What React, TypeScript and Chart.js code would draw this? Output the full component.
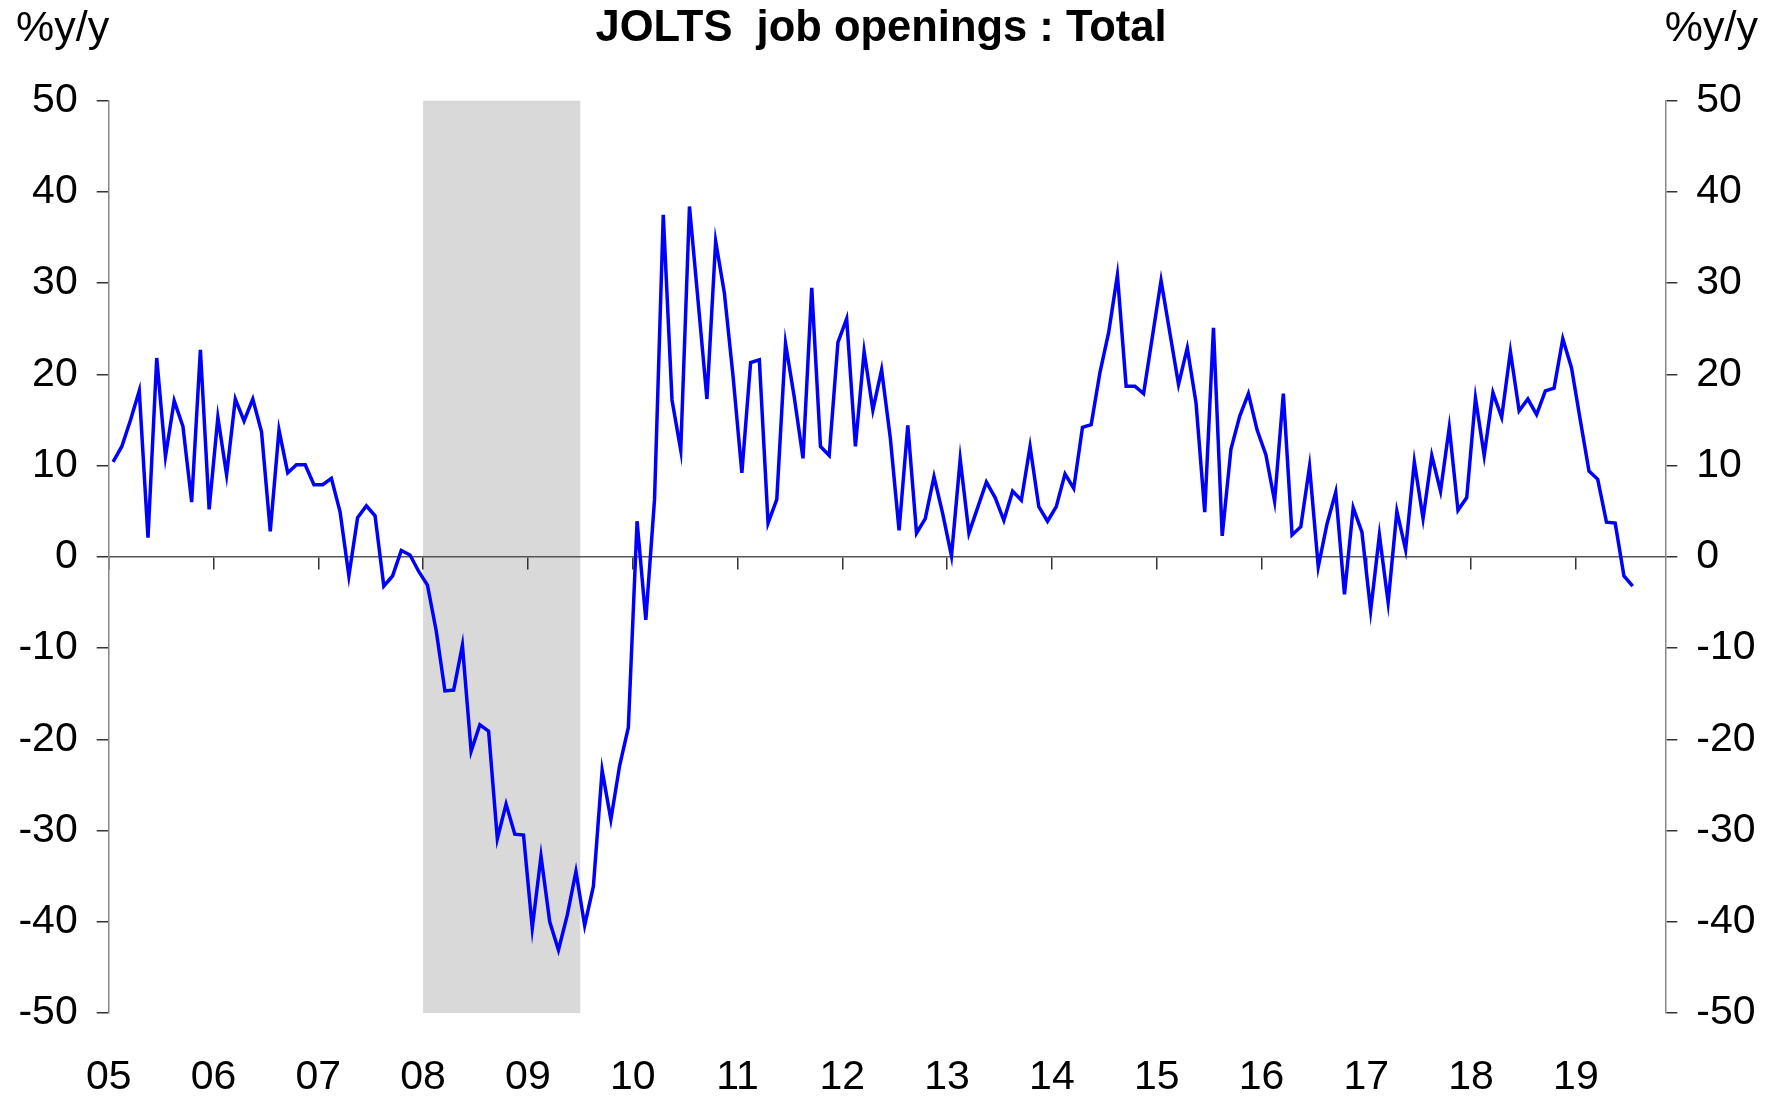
import React, { useEffect, useRef } from "react";
import { Chart, registerables } from "chart.js";

Chart.register(...registerables);

// ---- Data: JOLTS job openings, total, % y/y (monthly, Jan 2005 - Jul 2019) ----
const startYear = 2005;
const y2005 = [10.4, 12.1, 15.0, 18.2, 2.1, 21.8, 11.0, 17.1, 14.3, 6.0, 22.7, 5.2];
const y2006 = [15.3, 9.0, 17.3, 14.9, 17.3, 13.7, 2.8, 13.9, 9.2, 10.1, 10.1, 7.9];
const y2007 = [7.9, 8.6, 4.9, -2.1, 4.3, 5.6, 4.5, -3.2, -2.1, 0.7, 0.2, -1.6];
const y2008 = [-3.1, -8.1, -14.7, -14.6, -9.7, -21.3, -18.4, -19.1, -30.9, -27.1, -30.4, -30.5];
const y2009 = [-40.7, -32.8, -40.0, -43.1, -39.3, -34.5, -40.4, -36.1, -23.4, -28.8, -22.9, -18.7];
const y2010 = [3.9, -6.9, 6.3, 37.5, 17.2, 11.7, 38.4, 27.9, 17.3, 34.6, 28.9, 19.7];
const y2011 = [9.2, 21.3, 21.6, 3.7, 6.3, 23.4, 17.5, 10.8, 29.5, 12.1, 11.1, 23.5];
const y2012 = [26.1, 12.1, 22.5, 16.1, 20.5, 13.0, 2.9, 14.4, 2.6, 4.2, 8.8, 4.7];
const y2013 = [0.1, 10.7, 2.6, 5.4, 8.2, 6.5, 4.0, 7.2, 6.2, 12.1, 5.5, 3.9];
const y2014 = [5.5, 9.1, 7.5, 14.2, 14.5, 20.2, 24.6, 30.9, 18.7, 18.7, 17.9, 24.1];
const y2015 = [30.3, 24.6, 18.9, 22.9, 16.9, 4.9, 25.1, 2.3, 11.8, 15.4, 17.9, 13.9];
const y2016 = [11.2, 6.1, 17.9, 2.4, 3.3, 9.9, -1.1, 3.6, 7.1, -4.1, 5.4, 2.7];
const y2017 = [-5.9, 2.4, -5.0, 5.0, 0.8, 10.4, 4.2, 11.1, 7.2, 14.2, 5.1, 6.5];
const y2018 = [17.4, 11.1, 18.0, 15.3, 22.5, 16.0, 17.3, 15.6, 18.2, 18.5, 23.9, 20.7];
const y2019 = [15.0, 9.4, 8.5, 3.8, 3.7, -2.1, -3.2];

const yoyValues = [
  ...y2005, ...y2006, ...y2007, ...y2008, ...y2009, ...y2010, ...y2011, ...y2012,
  ...y2013, ...y2014, ...y2015, ...y2016, ...y2017, ...y2018, ...y2019,
];

// Recession shading (Jan 2008 – mid 2009)
const recession = [2008.0, 2009.5];

// Axis ranges / labels
const xMin = 2005;
const xMax = 2019.853;
const yMin = -50;
const yMax = 50;
const yStep = 10;
const titleText = "JOLTS  job openings : Total";
const unitText = "%y/y";

const FONT = "'Liberation Sans', Arial, Helvetica, sans-serif";

export default function App() {
  const ref = useRef<HTMLCanvasElement>(null);

  useEffect(() => {
    const canvas = ref.current;
    if (!canvas) return;

    // monthly points placed at mid-month
    const points = yoyValues.map((v, i) => ({ x: startYear + (i + 0.5) / 12, y: v }));

    const bandPlugin = {
      id: "recessionBand",
      beforeDraw(chart: any) {
        const { ctx, scales } = chart;
        const xs = scales.x;
        const ys = scales.y;
        const x0 = xs.getPixelForValue(recession[0]);
        const x1 = xs.getPixelForValue(recession[1]);
        const yt = ys.getPixelForValue(yMax);
        const yb = ys.getPixelForValue(yMin);
        ctx.save();
        ctx.fillStyle = "#D9D9D9";
        ctx.fillRect(x0, yt, x1 - x0, yb - yt);
        ctx.restore();
      },
    };

    const textPlugin = {
      id: "headerTexts",
      afterDraw(chart: any) {
        const ctx = chart.ctx;
        ctx.save();
        ctx.fillStyle = "#000";
        ctx.textBaseline = "middle";
        ctx.font = `bold 43.5px ${FONT}`;
        ctx.textAlign = "center";
        ctx.fillText(titleText, 881, 29);
        ctx.font = `43px ${FONT}`;
        ctx.textAlign = "left";
        ctx.fillText(unitText, 16, 29);
        ctx.textAlign = "right";
        ctx.fillText(unitText, 1758, 29);
        ctx.restore();
      },
    };

    const yAxisCommon = (position: "left" | "right") => ({
      type: "linear" as const,
      axis: "y" as const,
      position,
      min: yMin,
      max: yMax,
      grid: {
        display: true,
        drawOnChartArea: false,
        drawTicks: true,
        tickLength: 12,
        color: "#333333",
        lineWidth: 1.5,
      },
      border: { display: true, color: "#888888", width: 1.5 },
      ticks: {
        stepSize: yStep,
        padding: 19,
        color: "#000",
        font: { size: 41, family: FONT },
      },
    });

    const chart = new Chart(canvas, {
      type: "line",
      data: {
        datasets: [
          {
            label: "JOLTS job openings : Total",
            data: points,
            borderColor: "#0000FF",
            backgroundColor: "#0000FF",
            borderWidth: 3.5,
            pointRadius: 0,
            tension: 0,
            fill: false,
            borderJoinStyle: "miter",
          },
        ],
      },
      options: {
        animation: false,
        responsive: false,
        maintainAspectRatio: false,
        layout: { padding: { top: 100.7, left: 0, right: 0, bottom: 0 } },
        plugins: {
          legend: { display: false },
          tooltip: { enabled: false },
          title: { display: false },
        },
        scales: {
          x: {
            type: "linear",
            axis: "x",
            position: "bottom",
            min: xMin,
            max: xMax,
            grid: { display: false },
            border: { display: false },
            ticks: {
              stepSize: 1,
              includeBounds: false,
              autoSkip: false,
              maxRotation: 0,
              padding: 32,
              color: "#000",
              font: { size: 41, family: FONT },
              callback: (v: any) => String(Math.round(Number(v))).slice(2),
            },
            afterFit: (s: any) => {
              s.height = 83;
            },
          },
          xz: {
            type: "linear",
            axis: "x",
            position: { y: 0 },
            min: xMin,
            max: xMax,
            grid: {
              display: true,
              drawOnChartArea: false,
              drawTicks: true,
              tickLength: 12,
              color: "#333333",
              lineWidth: 1.5,
            },
            border: { display: true, color: "#555555", width: 1.5 },
            ticks: { display: false, stepSize: 1, includeBounds: false, autoSkip: false },
          },
          y: {
            ...yAxisCommon("left"),
            afterFit: (s: any) => {
              s.width = 108.7;
            },
          },
          y2: {
            ...yAxisCommon("right"),
            afterFit: (s: any) => {
              s.width = 109.7;
            },
          },
        },
      } as any,
      plugins: [bandPlugin, textPlugin],
    });

    return () => {
      chart.destroy();
    };
  }, []);

  return (
    <div style={{ position: "absolute", left: 0, top: 0, width: 1775, height: 1096, background: "#fff" }}>
      <canvas ref={ref} width={1775} height={1096} style={{ width: 1775, height: 1096, display: "block" }} />
    </div>
  );
}
